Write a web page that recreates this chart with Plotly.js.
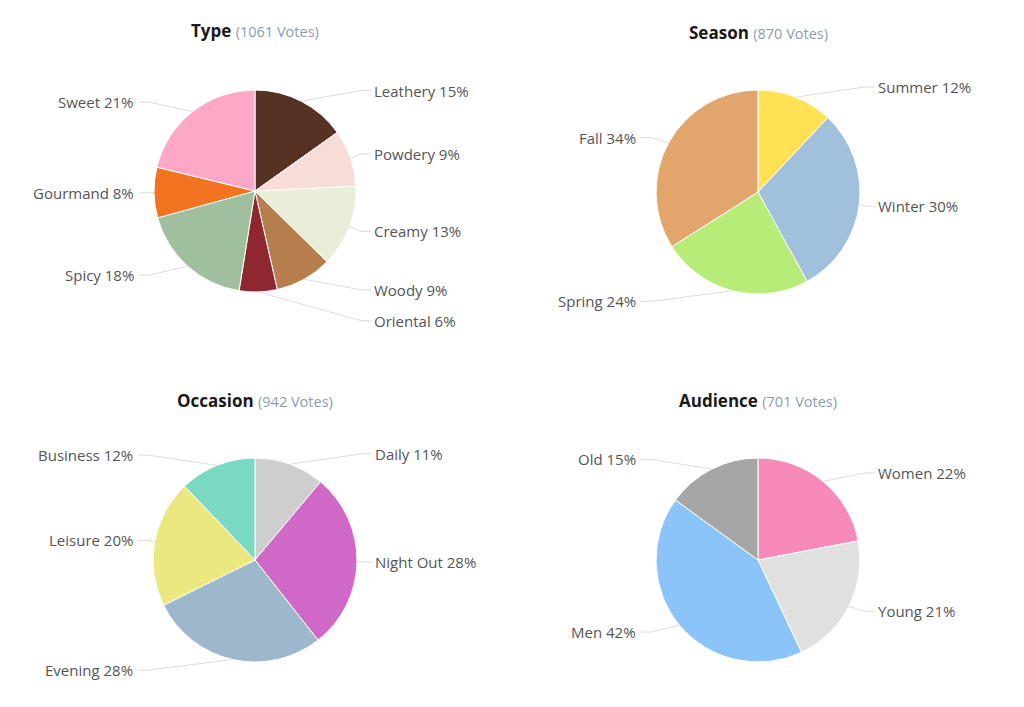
<!DOCTYPE html>
<html>
<head>
<meta charset="utf-8">
<script src="https://cdn.plot.ly/plotly-3.0.1.min.js"></script>
<style>html,body{margin:0;padding:0;background:#fff;}#chart{width:1024px;height:707px;}</style>
</head>
<body>
<div id="chart"></div>
<script>
// ---- data ----
const typeLabels = ["Leathery", "Powdery", "Creamy", "Woody", "Oriental", "Spicy", "Gourmand", "Sweet"];
const typeValues = [15, 9, 13, 9, 6, 18, 8, 21];
const typeColors = ["#553222", "#f7dcd8", "#e9eed8", "#b67d4d", "#8e2730", "#9fbf9f", "#f27420", "#fea7c6"];
const typeVotes = 1061;

const seasonLabels = ["Summer", "Winter", "Spring", "Fall"];
const seasonValues = [12, 30, 24, 34];
const seasonColors = ["#ffe153", "#a0c0dc", "#b6ec77", "#e2a66d"];
const seasonVotes = 870;

const occasionLabels = ["Daily", "Night Out", "Evening", "Leisure", "Business"];
const occasionValues = [11, 28, 28, 20, 12];
const occasionColors = ["#cecece", "#cf68c6", "#9db7cc", "#ece880", "#7ad9c2"];
const occasionVotes = 942;

const audienceLabels = ["Women", "Young", "Men", "Old"];
const audienceValues = [22, 21, 42, 15];
const audienceColors = ["#f78ab8", "#e0e0e0", "#8ac4f8", "#a6a6a6"];
const audienceVotes = 701;

// ---- layout ----
const W = 1024, H = 707;
const px = x => x / W;
const py = y => 1 - y / H;

const charts = [
  {title: "Type", votes: typeVotes, labels: typeLabels, values: typeValues, colors: typeColors, cx: 255, cy: 191, r: 101},
  {title: "Season", votes: seasonVotes, labels: seasonLabels, values: seasonValues, colors: seasonColors, cx: 758, cy: 192, r: 102},
  {title: "Occasion", votes: occasionVotes, labels: occasionLabels, values: occasionValues, colors: occasionColors, cx: 255, cy: 560, r: 102},
  {title: "Audience", votes: audienceVotes, labels: audienceLabels, values: audienceValues, colors: audienceColors, cx: 758, cy: 560, r: 102}
];

const traces = [], annotations = [], shapes = [];
const LABEL_R = 113, MIN_GAP = 31;

charts.forEach(c => {
  traces.push({
    type: "pie",
    labels: c.labels,
    values: c.values,
    sort: false,
    direction: "clockwise",
    rotation: 0,
    textinfo: "none",
    hoverinfo: "label+percent",
    marker: {colors: c.colors, line: {color: "#ffffff", width: 1}},
    domain: {x: [px(c.cx - c.r), px(c.cx + c.r)], y: [py(c.cy + c.r), py(c.cy - c.r)]},
    showlegend: false
  });

  annotations.push({
    xref: "paper", yref: "paper",
    x: px(c.cx), y: py(c.cy - 160), xanchor: "center", yanchor: "middle",
    showarrow: false,
    text: "<b>" + c.title + "</b> <span style='color:#8e9bb0;font-size:14.5px'>(" + c.votes + " Votes)</span>",
    font: {family: "Open Sans, sans-serif", size: 17, color: "#1a1a1a"}
  });

  const total = c.values.reduce((a, b) => a + b, 0);
  let cum = 0;
  const items = c.values.map((v, i) => {
    const mid = (cum + v / 2) / total * 2 * Math.PI;
    cum += v;
    const side = Math.sin(mid) >= 0 ? 1 : -1;
    return {
      i, side, mid,
      ex: c.cx + c.r * Math.sin(mid),
      ey: c.cy - c.r * Math.cos(mid),
      y: c.cy - LABEL_R * Math.cos(mid)
    };
  });
  [1, -1].forEach(s => {
    const list = items.filter(it => it.side === s).sort((a, b) => a.y - b.y);
    for (let k = 1; k < list.length; k++) {
      if (list[k].y - list[k - 1].y < MIN_GAP) list[k].y = list[k - 1].y + MIN_GAP;
    }
  });
  items.forEach(it => {
    const s = it.side;
    const lx = s > 0 ? c.cx + c.r + 16 : c.cx - c.r - 18;
    annotations.push({
      xref: "paper", yref: "paper",
      x: px(lx), y: py(it.y), xanchor: s > 0 ? "left" : "right", yanchor: "middle",
      showarrow: false,
      text: c.labels[it.i] + " " + c.values[it.i] + "%",
      font: {family: "Open Sans, sans-serif", size: 15, color: "#555555"}
    });
    const x1 = c.cx + s * (c.r + 5), x2 = c.cx + s * (c.r + 15);
    shapes.push({
      type: "path", xref: "paper", yref: "paper",
      path: "M " + px(it.ex) + "," + py(it.ey) + " L " + px(x1) + "," + py(it.y) + " L " + px(x2) + "," + py(it.y),
      line: {color: "#dcdcdc", width: 1}
    });
  });
});

const layout = {
  width: W, height: H,
  margin: {l: 0, r: 0, t: 0, b: 0},
  paper_bgcolor: "#ffffff",
  font: {family: "Open Sans, sans-serif"},
  annotations, shapes
};

Plotly.newPlot("chart", traces, layout, {displayModeBar: false, staticPlot: true});
</script>
</body>
</html>
